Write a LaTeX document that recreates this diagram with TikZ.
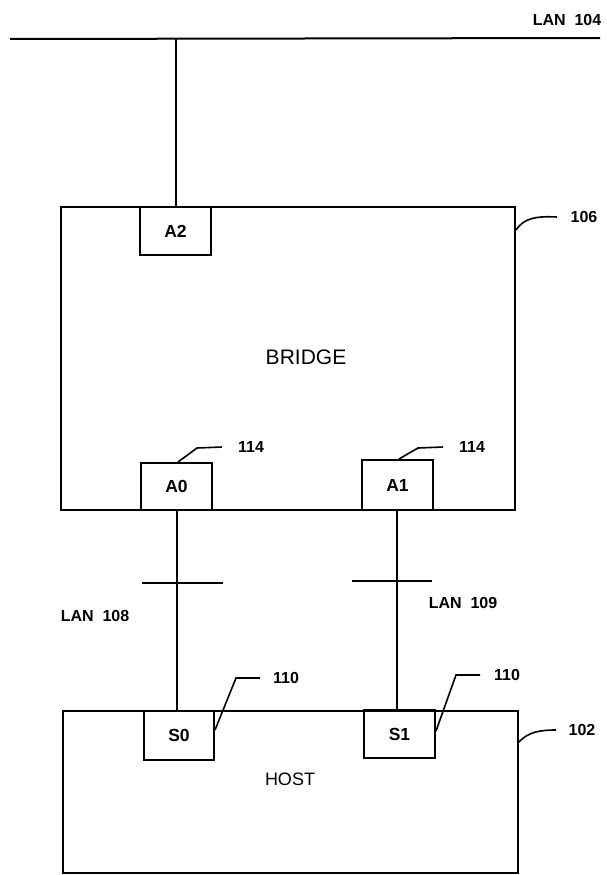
\documentclass[tikz,border=0pt]{standalone}
\usepackage{fontspec}
\setmainfont{Liberation Sans}
\begin{document}
\begin{tikzpicture}[x=1pt,y=-1pt,line width=2pt,
  box/.style={draw,rectangle,inner sep=0pt,anchor=north west,line width=2pt},
  port/.style={box,minimum width=71pt,minimum height=48pt,font=\bfseries\fontsize{17.5}{17.5}\selectfont},
  lbl/.style={inner sep=0pt,font=\bfseries\fontsize{16}{16}\selectfont},
  lead/.style={line width=1.6pt}]
\useasboundingbox (0,0) rectangle (606,875);
% LAN 104
\coordinate (lanL) at (10,39);
\coordinate (lanR) at (600,38);
\draw (lanL) -- (lanR);
\node[lbl] (lan104) at (567,20) {LAN\ \ 104};
% Bridge
\node[box,minimum width=454pt,minimum height=303pt] (bridge) at (60,206) {};
\node[lbl,font=\fontsize{21}{21}\selectfont] (bridgelbl) at (306,357) {BRIDGE};
\node[port] (A2) at (139,206) {A2};
\node[port,minimum height=47pt] (A0) at (140,462) {A0};
\node[port,minimum height=50pt] (A1) at (361,459) {A1};
\draw (A2.north) -- (A2.north |- lanL);
% 106
\node[lbl] (n106) at (584,217) {106};
\draw[lead] (bridge.east |- 0,230) .. controls (524,218) and (536,216) .. (n106.west -| 557,0);
% 114 labels
\node[lbl] (n114a) at (251,447) {114};
\node[lbl] (n114b) at (472,447) {114};
\coordinate (k0) at (197,448);
\coordinate (k1) at (418,448);
\draw[lead] (A0.north west) ++(38,0) coordinate (s0) -- (k0) -- (n114a.west -| 222,0);
\draw[lead] (A1.north west) ++(38,0) coordinate (s1) -- (k1) -- (n114b.west -| 443,0);
% Host
\node[box,minimum width=455pt,minimum height=162pt] (host) at (62,710) {};
\node[lbl,font=\fontsize{18}{18}\selectfont] (hostlbl) at (290,779) {HOST};
\node[port,minimum width=70pt,minimum height=49pt] (S0) at (143,710) {S0};
\node[port,minimum height=48pt] (S1) at (363,709) {S1};
% LAN 108 / 109
\draw (A0.south -| 177,0) -- (S0.north -| 177,0);
\draw (A1.south -| 397,0) -- (S1.north -| 397,0);
\coordinate (t0a) at (142,583);
\coordinate (t0b) at (223,583);
\coordinate (t1a) at (352,581);
\coordinate (t1b) at (432,581);
\draw (t0a) -- (t0b);
\draw (t1a) -- (t1b);
\node[lbl] (lan108) at (95,616) {LAN\ \ 108};
\node[lbl] (lan109) at (463,603) {LAN\ \ 109};
% 110 labels
\node[lbl] (n110a) at (286,678) {110};
\node[lbl] (n110b) at (507,675) {110};
\coordinate (m0) at (236,678);
\coordinate (m1) at (456,675);
\draw[lead] (S0.east |- 0,730) -- (m0) -- (n110a.west -| 260,0);
\draw[lead] (S1.east |- 0,731) -- (m1) -- (n110b.west -| 480,0);
% 102
\node[lbl] (n102) at (582,730) {102};
\draw[lead] (host.east |- 0,742) .. controls (528,732) and (540,730) .. (n102.west -| 556,0);
\end{tikzpicture}
\end{document}
